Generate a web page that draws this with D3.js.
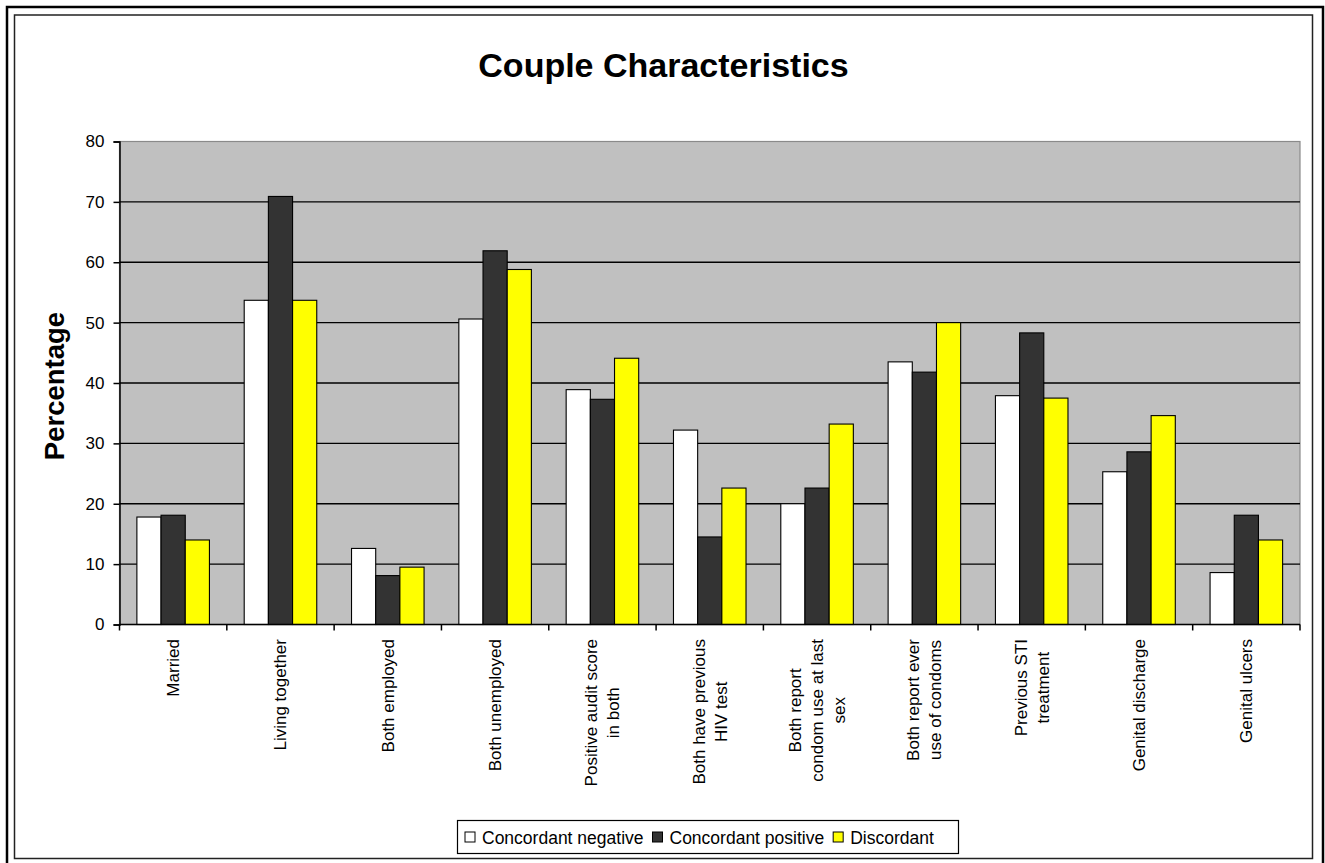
<!DOCTYPE html>
<html>
<head>
<meta charset="utf-8">
<script src="https://cdn.jsdelivr.net/npm/d3@7"></script>
<style>
  html, body { margin: 0; padding: 0; background: #fff; }
  svg { display: block; font-family: Arial, "Liberation Sans", sans-serif; }
</style>
</head>
<body>
<svg id="chart" width="1325" height="863"></svg>
<script>
// Category labels (line breaks as shown under each group)
const categories = [
  ["Married"],
  ["Living together"],
  ["Both employed"],
  ["Both unemployed"],
  ["Positive audit score", "in both"],
  ["Both have previous", "HIV test"],
  ["Both report", "condom use at last", "sex"],
  ["Both report ever", "use of condoms"],
  ["Previous STI", "treatment"],
  ["Genital discharge"],
  ["Genital ulcers"]
];

const seriesNames = ["Concordant negative", "Concordant positive", "Discordant"];
const seriesColors = ["#FFFFFF", "#333333", "#FFFF00"];

// Percentages per series, one value per category
const concordantNegative = [17.8, 53.7, 12.6, 50.6, 38.9, 32.2, 20.0, 43.5, 37.9, 25.3, 8.6];
const concordantPositive = [18.1, 70.9, 8.1, 61.9, 37.3, 14.5, 22.6, 41.8, 48.3, 28.6, 18.1];
const discordant         = [14.0, 53.7, 9.5, 58.8, 44.1, 22.6, 33.2, 50.0, 37.5, 34.6, 14.0];

const yTicks = [0, 10, 20, 30, 40, 50, 60, 70, 80];

const seriesValues = [concordantNegative, concordantPositive, discordant];

const svg = d3.select("#chart");

// Chart frame: outer heavy border and inner border
svg.append("rect")
  .attr("x", 7).attr("y", 7).attr("width", 1316).attr("height", 880)
  .attr("fill", "none").attr("stroke", "#000").attr("stroke-width", 2.5);
svg.append("rect")
  .attr("x", 14.5).attr("y", 15).attr("width", 1298).attr("height", 843.5)
  .attr("fill", "#fff").attr("stroke", "#222").attr("stroke-width", 1.5);

// Title
svg.append("text")
  .attr("x", 663.5).attr("y", 77)
  .attr("text-anchor", "middle")
  .attr("font-size", 34).attr("font-weight", "bold")
  .text("Couple Characteristics");

// Plot area
const plot = { left: 119.5, right: 1300, top: 141.5, bottom: 624.5 };

const x0 = d3.scaleBand()
  .domain(d3.range(categories.length))
  .range([plot.left, plot.right])
  .paddingInner(0)
  .paddingOuter(0);

// Inner scale for the three bars; gap between groups about 1.56 bar widths
const groupInset = x0.bandwidth() * 0.162;
const x1 = d3.scaleBand()
  .domain(d3.range(seriesNames.length))
  .range([groupInset, x0.bandwidth() - groupInset]);

const y = d3.scaleLinear().domain([0, 80]).range([plot.bottom, plot.top]);

svg.append("rect")
  .attr("x", plot.left).attr("y", plot.top)
  .attr("width", plot.right - plot.left).attr("height", plot.bottom - plot.top)
  .attr("fill", "#C0C0C0")
  .attr("stroke", "#8a8a8a").attr("stroke-width", 1.2);

// Horizontal gridlines
svg.append("g")
  .selectAll("line")
  .data(yTicks.filter(t => t > 0 && t < 80))
  .join("line")
  .attr("x1", plot.left).attr("x2", plot.right)
  .attr("y1", d => y(d)).attr("y2", d => y(d))
  .attr("stroke", "#000").attr("stroke-width", 1.4);

// Bars
const groups = svg.append("g")
  .selectAll("g")
  .data(categories.map((c, i) => i))
  .join("g")
  .attr("transform", i => `translate(${x0(i)},0)`);

groups.selectAll("rect")
  .data(i => seriesValues.map((vals, s) => ({ s, v: vals[i] })))
  .join("rect")
  .attr("x", d => x1(d.s))
  .attr("width", x1.bandwidth())
  .attr("y", d => y(d.v))
  .attr("height", d => y(0) - y(d.v))
  .attr("fill", d => seriesColors[d.s])
  .attr("stroke", "#000").attr("stroke-width", 1.1);

// Y axis
const yAxis = d3.axisLeft(y).tickValues(yTicks).tickSize(6).tickPadding(9);
const yg = svg.append("g")
  .attr("transform", `translate(${plot.left},0)`)
  .call(yAxis);
yg.select(".domain").attr("stroke", "#000").attr("stroke-width", 1.5);
yg.selectAll(".tick line").attr("stroke", "#000").attr("stroke-width", 1.5);
yg.selectAll(".tick text")
  .attr("font-size", 17).attr("fill", "#000")
  .attr("font-family", "Arial, 'Liberation Sans', sans-serif");

// X axis: line with ticks at group boundaries
const boundaries = d3.range(categories.length + 1).map(i =>
  i < categories.length ? x0(i) : x0(categories.length - 1) + x0.bandwidth());
svg.append("line")
  .attr("x1", plot.left).attr("x2", plot.right)
  .attr("y1", plot.bottom).attr("y2", plot.bottom)
  .attr("stroke", "#000").attr("stroke-width", 1.5);
svg.append("g")
  .selectAll("line")
  .data(boundaries)
  .join("line")
  .attr("x1", d => d).attr("x2", d => d)
  .attr("y1", plot.bottom).attr("y2", plot.bottom + 6)
  .attr("stroke", "#000").attr("stroke-width", 1.5);

// Rotated category labels, lines centred on one another
const lineH = 22;
const labelTop = 639;
categories.forEach((lines, i) => {
  const cx = x0(i) + x0.bandwidth() / 2;
  const g = svg.append("g")
    .attr("transform", `translate(${cx},${labelTop}) rotate(-90)`);
  const texts = lines.map((ln, k) => g.append("text")
    .attr("font-size", 17)
    .attr("text-anchor", "middle")
    .attr("y", (k - (lines.length - 1) / 2) * lineH + 6)
    .text(ln));
  const maxW = d3.max(texts, t => t.node().getComputedTextLength());
  texts.forEach(t => t.attr("x", -maxW / 2));
});

// Y axis title
svg.append("text")
  .attr("transform", "translate(64,386) rotate(-90)")
  .attr("text-anchor", "middle")
  .attr("font-size", 27.5).attr("font-weight", "bold")
  .text("Percentage");

// Legend
const legend = svg.append("g");
legend.append("rect")
  .attr("x", 457.5).attr("y", 820.5).attr("width", 501).attr("height", 33)
  .attr("fill", "#fff").attr("stroke", "#000").attr("stroke-width", 1.2);
let lx = 465;
seriesNames.forEach((name, s) => {
  legend.append("rect")
    .attr("x", lx).attr("y", 832).attr("width", 10).attr("height", 10)
    .attr("fill", seriesColors[s]).attr("stroke", "#000").attr("stroke-width", 1);
  const t = legend.append("text")
    .attr("x", lx + 17).attr("y", 843.5)
    .attr("font-size", 17.5)
    .text(name);
  lx += 17 + t.node().getComputedTextLength() + 9;
});
</script>
</body>
</html>
